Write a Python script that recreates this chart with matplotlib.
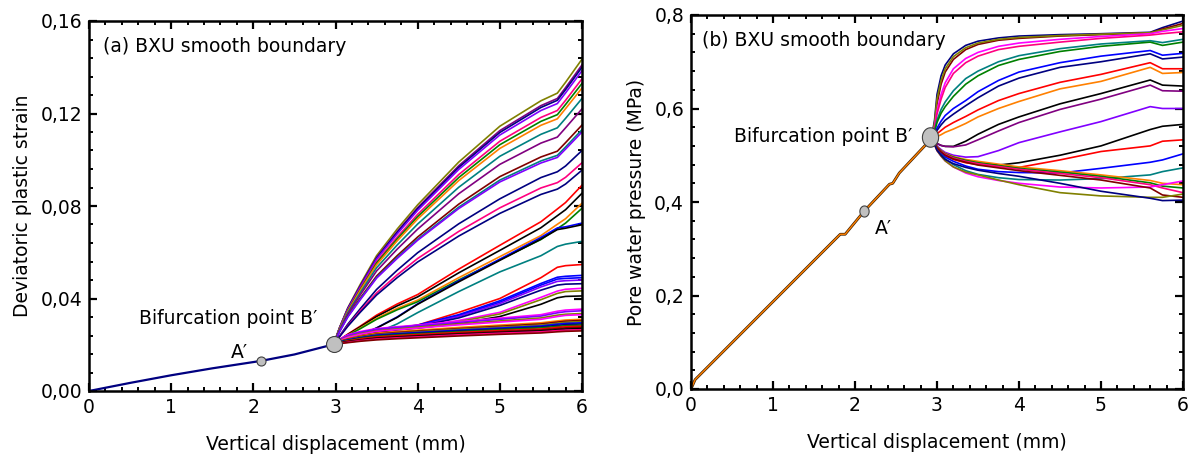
import numpy as np
import matplotlib
matplotlib.use("Agg")
import matplotlib.pyplot as plt
from matplotlib.path import Path
from matplotlib.ticker import MultipleLocator

plt.rcParams['font.family'] = ['DejaVu Sans']

# Panel (a): deviatoric plastic strain
xa_pre = [0, 0.5, 1.0, 1.5, 2.09, 2.5, 2.98]
ya_pre = [0, 0.0035, 0.0068, 0.0098, 0.0130, 0.0158, 0.0202]

xa = [2.98, 3.05, 3.15, 3.3, 3.5, 3.75, 4.0, 4.5, 5.0, 5.5, 5.7, 5.8, 6.0]
curves_a = [
    ('#808000', [0.0205, 0.0275, 0.0360, 0.0460, 0.0585, 0.0700, 0.0805, 0.0990, 0.1145, 0.1255, 0.1288, 0.1335, 0.1435]),
    ('#800080', [0.0205, 0.0274, 0.0357, 0.0454, 0.0577, 0.0689, 0.0793, 0.0974, 0.1126, 0.1234, 0.1265, 0.1312, 0.1410]),
    ('#000080', [0.0205, 0.0273, 0.0356, 0.0452, 0.0574, 0.0685, 0.0788, 0.0967, 0.1118, 0.1226, 0.1257, 0.1303, 0.1400]),
    ('#8000ff', [0.0205, 0.0272, 0.0354, 0.0449, 0.0570, 0.0679, 0.0781, 0.0958, 0.1107, 0.1213, 0.1243, 0.1289, 0.1385]),
    ('#ff0080', [0.0205, 0.0270, 0.0349, 0.0442, 0.0559, 0.0665, 0.0764, 0.0936, 0.1080, 0.1183, 0.1213, 0.1257, 0.1350]),
    ('#008000', [0.0205, 0.0269, 0.0347, 0.0438, 0.0553, 0.0657, 0.0754, 0.0923, 0.1065, 0.1166, 0.1195, 0.1239, 0.1330]),
    ('#ff8000', [0.0205, 0.0268, 0.0344, 0.0434, 0.0546, 0.0649, 0.0744, 0.0910, 0.1049, 0.1149, 0.1177, 0.1221, 0.1310]),
    ('#008080', [0.0205, 0.0265, 0.0339, 0.0424, 0.0533, 0.0631, 0.0722, 0.0881, 0.1015, 0.1110, 0.1138, 0.1179, 0.1265]),
    ('#800080', [0.0205, 0.0263, 0.0333, 0.0415, 0.0519, 0.0613, 0.0700, 0.0853, 0.0980, 0.1072, 0.1098, 0.1138, 0.1220]),
    ('#800000', [0.0205, 0.0259, 0.0324, 0.0401, 0.0497, 0.0585, 0.0666, 0.0808, 0.0927, 0.1012, 0.1037, 0.1074, 0.1150]),
    ('#008080', [0.0205, 0.0258, 0.0322, 0.0397, 0.0491, 0.0577, 0.0656, 0.0795, 0.0912, 0.0995, 0.1019, 0.1055, 0.1130]),
    ('#8000ff', [0.0205, 0.0257, 0.0320, 0.0394, 0.0488, 0.0573, 0.0652, 0.0789, 0.0904, 0.0986, 0.1010, 0.1046, 0.1120]),
    ('#000080', [0.0205, 0.0238, 0.0289, 0.0355, 0.0439, 0.0522, 0.0598, 0.0723, 0.0831, 0.0923, 0.0948, 0.0973, 0.1040]),
    ('#ff0080', [0.0205, 0.0236, 0.0283, 0.0346, 0.0424, 0.0502, 0.0573, 0.0690, 0.0792, 0.0878, 0.0901, 0.0924, 0.0987]),
    ('#000080', [0.0205, 0.0235, 0.0280, 0.0340, 0.0415, 0.0490, 0.0558, 0.0670, 0.0768, 0.0850, 0.0873, 0.0895, 0.0955]),
    ('#ff0000', [0.0205, 0.0222, 0.0246, 0.0280, 0.0328, 0.0376, 0.0417, 0.0527, 0.0630, 0.0732, 0.0787, 0.0815, 0.0890]),
    ('#000000', [0.0205, 0.0221, 0.0244, 0.0277, 0.0322, 0.0368, 0.0407, 0.0511, 0.0608, 0.0706, 0.0758, 0.0784, 0.0855]),
    ('#ff8000', [0.0205, 0.0220, 0.0241, 0.0272, 0.0314, 0.0357, 0.0393, 0.0490, 0.0581, 0.0672, 0.0721, 0.0745, 0.0812]),
    ('#008000', [0.0205, 0.0220, 0.0240, 0.0269, 0.0310, 0.0351, 0.0386, 0.0480, 0.0568, 0.0655, 0.0702, 0.0726, 0.0790]),
    ('#0000ff', [0.0205, 0.0210, 0.0221, 0.0242, 0.0273, 0.0320, 0.0377, 0.0476, 0.0570, 0.0664, 0.0705, 0.0710, 0.0726]),
    ('#000000', [0.0205, 0.0210, 0.0220, 0.0241, 0.0272, 0.0318, 0.0375, 0.0472, 0.0565, 0.0657, 0.0698, 0.0704, 0.0719]),
    ('#008080', [0.0202, 0.0212, 0.0224, 0.0237, 0.0252, 0.0290, 0.0339, 0.0430, 0.0515, 0.0585, 0.0625, 0.0635, 0.0647]),
    ('#ff0000', [0.0202, 0.0214, 0.0228, 0.0243, 0.0256, 0.0270, 0.0285, 0.0340, 0.0400, 0.0490, 0.0535, 0.0542, 0.0547]),
    ('#0000ff', [0.0202, 0.0216, 0.0232, 0.0248, 0.0262, 0.0274, 0.0285, 0.0330, 0.0390, 0.0465, 0.0492, 0.0496, 0.0500]),
    ('#0000ff', [0.0202, 0.0216, 0.0231, 0.0247, 0.0260, 0.0272, 0.0283, 0.0326, 0.0384, 0.0458, 0.0484, 0.0487, 0.0490]),
    ('#8000ff', [0.0202, 0.0215, 0.0230, 0.0246, 0.0259, 0.0270, 0.0281, 0.0322, 0.0378, 0.0450, 0.0474, 0.0477, 0.0480]),
    ('#000080', [0.0202, 0.0215, 0.0229, 0.0244, 0.0257, 0.0268, 0.0278, 0.0316, 0.0370, 0.0436, 0.0458, 0.0462, 0.0464]),
    ('#ff00ff', [0.0202, 0.0216, 0.0232, 0.0247, 0.0260, 0.0271, 0.0280, 0.0305, 0.0340, 0.0405, 0.0432, 0.0440, 0.0444]),
    ('#808000', [0.0202, 0.0215, 0.0230, 0.0245, 0.0257, 0.0268, 0.0277, 0.0300, 0.0333, 0.0395, 0.0422, 0.0430, 0.0433]),
    ('#000000', [0.0202, 0.0214, 0.0228, 0.0242, 0.0254, 0.0264, 0.0272, 0.0292, 0.0322, 0.0375, 0.0403, 0.0409, 0.0411]),
    ('#ff00ff', [0.0202, 0.0224, 0.0243, 0.0257, 0.0270, 0.0278, 0.0285, 0.0300, 0.0315, 0.0330, 0.0345, 0.0350, 0.0354]),
    ('#8000ff', [0.0202, 0.0222, 0.0240, 0.0254, 0.0267, 0.0275, 0.0282, 0.0296, 0.0310, 0.0324, 0.0338, 0.0343, 0.0347]),
    ('#808000', [0.0202, 0.0219, 0.0234, 0.0248, 0.0260, 0.0268, 0.0276, 0.0290, 0.0303, 0.0316, 0.0328, 0.0332, 0.0335]),
    ('#ff00ff', [0.0202, 0.0218, 0.0232, 0.0245, 0.0258, 0.0265, 0.0272, 0.0286, 0.0298, 0.0310, 0.0322, 0.0327, 0.0330]),
    ('#ff8000', [0.0202, 0.0215, 0.0226, 0.0238, 0.0250, 0.0257, 0.0263, 0.0275, 0.0285, 0.0295, 0.0303, 0.0307, 0.0310]),
    ('#800000', [0.0202, 0.0214, 0.0224, 0.0235, 0.0246, 0.0253, 0.0259, 0.0270, 0.0280, 0.0290, 0.0298, 0.0302, 0.0305]),
    ('#808000', [0.0202, 0.0213, 0.0222, 0.0233, 0.0244, 0.0250, 0.0256, 0.0267, 0.0276, 0.0285, 0.0293, 0.0297, 0.0300]),
    ('#0000ff', [0.0202, 0.0212, 0.0221, 0.0231, 0.0242, 0.0248, 0.0253, 0.0263, 0.0272, 0.0281, 0.0289, 0.0292, 0.0295]),
    ('#000080', [0.0202, 0.0211, 0.0219, 0.0229, 0.0239, 0.0245, 0.0250, 0.0260, 0.0268, 0.0277, 0.0284, 0.0287, 0.0290]),
    ('#008000', [0.0202, 0.0210, 0.0218, 0.0227, 0.0237, 0.0242, 0.0247, 0.0256, 0.0265, 0.0273, 0.0279, 0.0282, 0.0285]),
    ('#ff0000', [0.0202, 0.0209, 0.0216, 0.0225, 0.0234, 0.0239, 0.0244, 0.0253, 0.0261, 0.0268, 0.0275, 0.0278, 0.0280]),
    ('#800000', [0.0202, 0.0208, 0.0214, 0.0222, 0.0230, 0.0235, 0.0240, 0.0249, 0.0257, 0.0264, 0.0270, 0.0273, 0.0275]),
    ('#000000', [0.0202, 0.0207, 0.0213, 0.0220, 0.0228, 0.0233, 0.0237, 0.0246, 0.0253, 0.0260, 0.0265, 0.0268, 0.0270]),
    ('#ff0080', [0.0202, 0.0206, 0.0211, 0.0218, 0.0225, 0.0230, 0.0234, 0.0243, 0.0250, 0.0256, 0.0261, 0.0263, 0.0265]),
    ('#800000', [0.0202, 0.0205, 0.0209, 0.0215, 0.0221, 0.0226, 0.0230, 0.0238, 0.0245, 0.0251, 0.0256, 0.0258, 0.0260]),
]
pt_a = {'A': (2.09, 0.0130), 'B': (2.98, 0.0202)}
yticks_a = [0, 0.04, 0.08, 0.12, 0.16]
ylabels_a = ['0,00', '0,04', '0,08', '0,12', '0,16']

# Panel (b): pore water pressure
xb_pre = [0, 0.05, 1.82, 1.88, 2.11, 2.42, 2.46, 2.54, 2.93]
yb_pre = [0, 0.020, 0.331, 0.331, 0.380, 0.438, 0.440, 0.462, 0.535]

xb = [2.93, 2.97, 3.0, 3.05, 3.1, 3.2, 3.35, 3.5, 3.75, 4.0, 4.5, 5.0, 5.6, 5.75, 6.0]
curves_b = [
    ('#000080', [0.535, 0.575, 0.630, 0.670, 0.693, 0.717, 0.735, 0.744, 0.751, 0.755, 0.758, 0.760, 0.763, 0.773, 0.787]),
    ('#800000', [0.535, 0.565, 0.610, 0.652, 0.678, 0.705, 0.726, 0.737, 0.746, 0.750, 0.755, 0.758, 0.762, 0.770, 0.782]),
    ('#808000', [0.535, 0.570, 0.620, 0.660, 0.685, 0.711, 0.730, 0.740, 0.748, 0.752, 0.756, 0.759, 0.762, 0.768, 0.778]),
    ('#ff00ff', [0.535, 0.560, 0.595, 0.630, 0.655, 0.685, 0.707, 0.720, 0.733, 0.740, 0.748, 0.754, 0.760, 0.765, 0.771]),
    ('#ff0080', [0.535, 0.558, 0.588, 0.620, 0.645, 0.675, 0.698, 0.712, 0.726, 0.733, 0.742, 0.750, 0.757, 0.760, 0.764]),
    ('#008080', [0.535, 0.552, 0.575, 0.598, 0.614, 0.638, 0.664, 0.680, 0.700, 0.713, 0.728, 0.738, 0.745, 0.741, 0.748]),
    ('#008000', [0.535, 0.550, 0.570, 0.590, 0.604, 0.626, 0.652, 0.670, 0.692, 0.705, 0.722, 0.733, 0.742, 0.735, 0.742]),
    ('#0000ff', [0.535, 0.545, 0.558, 0.573, 0.585, 0.600, 0.617, 0.636, 0.660, 0.678, 0.698, 0.712, 0.724, 0.714, 0.718]),
    ('#000080', [0.535, 0.543, 0.553, 0.565, 0.575, 0.588, 0.606, 0.623, 0.648, 0.665, 0.688, 0.700, 0.717, 0.706, 0.710]),
    ('#ff0000', [0.535, 0.540, 0.546, 0.553, 0.560, 0.570, 0.583, 0.597, 0.617, 0.632, 0.656, 0.673, 0.698, 0.685, 0.685]),
    ('#ff8000', [0.535, 0.537, 0.540, 0.544, 0.549, 0.556, 0.568, 0.582, 0.600, 0.615, 0.642, 0.658, 0.688, 0.675, 0.677]),
    ('#000000', [0.535, 0.530, 0.525, 0.521, 0.519, 0.519, 0.530, 0.545, 0.566, 0.582, 0.610, 0.632, 0.661, 0.650, 0.648]),
    ('#800080', [0.535, 0.530, 0.525, 0.521, 0.519, 0.518, 0.522, 0.533, 0.552, 0.570, 0.598, 0.620, 0.650, 0.638, 0.637]),
    ('#8000ff', [0.535, 0.528, 0.520, 0.512, 0.506, 0.500, 0.496, 0.497, 0.510, 0.527, 0.550, 0.572, 0.604, 0.600, 0.600]),
    ('#000000', [0.535, 0.527, 0.518, 0.509, 0.502, 0.494, 0.487, 0.483, 0.479, 0.484, 0.500, 0.520, 0.555, 0.562, 0.566]),
    ('#ff0000', [0.535, 0.526, 0.516, 0.507, 0.499, 0.491, 0.484, 0.480, 0.476, 0.474, 0.490, 0.508, 0.520, 0.530, 0.533]),
    ('#0000ff', [0.535, 0.525, 0.514, 0.504, 0.496, 0.487, 0.477, 0.470, 0.465, 0.463, 0.462, 0.472, 0.485, 0.490, 0.503]),
    ('#008080', [0.535, 0.524, 0.512, 0.501, 0.492, 0.480, 0.467, 0.459, 0.452, 0.448, 0.447, 0.450, 0.458, 0.465, 0.473]),
    ('#ff8000', [0.535, 0.527, 0.518, 0.510, 0.504, 0.497, 0.491, 0.487, 0.481, 0.475, 0.467, 0.458, 0.446, 0.440, 0.437]),
    ('#008000', [0.535, 0.526, 0.517, 0.509, 0.503, 0.496, 0.489, 0.484, 0.478, 0.472, 0.464, 0.455, 0.441, 0.434, 0.430]),
    ('#ff0080', [0.535, 0.526, 0.516, 0.508, 0.502, 0.494, 0.487, 0.482, 0.476, 0.470, 0.461, 0.452, 0.437, 0.430, 0.420]),
    ('#ff00ff', [0.535, 0.523, 0.510, 0.498, 0.488, 0.475, 0.462, 0.454, 0.446, 0.440, 0.432, 0.430, 0.432, 0.437, 0.445]),
    ('#800000', [0.535, 0.526, 0.516, 0.507, 0.500, 0.492, 0.485, 0.479, 0.473, 0.467, 0.457, 0.447, 0.430, 0.415, 0.410]),
    ('#808000', [0.535, 0.523, 0.510, 0.498, 0.488, 0.475, 0.464, 0.458, 0.447, 0.437, 0.420, 0.413, 0.410, 0.410, 0.417]),
    ('#000080', [0.535, 0.523, 0.511, 0.500, 0.491, 0.482, 0.474, 0.468, 0.461, 0.455, 0.440, 0.423, 0.408, 0.403, 0.404]),
]
pt_b = {'A': (2.11, 0.380), 'B': (2.915, 0.5386)}
yticks_b = [0, 0.2, 0.4, 0.6, 0.8]
ylabels_b = ['0,0', '0,2', '0,4', '0,6', '0,8']

xticks = [0, 1, 2, 3, 4, 5, 6]

# slightly tall ellipse marker
t = np.linspace(0, 2 * np.pi, 60)
ell = Path(np.column_stack([np.cos(t), 1.2 * np.sin(t)]), closed=True)

fig = plt.figure(figsize=(11.95, 4.58), dpi=100)
ax1 = fig.add_axes([89 / 1195, 1 - 391 / 458, 493 / 1195, 370 / 458])
ax2 = fig.add_axes([691 / 1195, 1 - 389 / 458, 492 / 1195, 374 / 458])

FS = 13.5


def style(ax, ylim, yt, yl, ymin_step, ylabel):
    ax.set_xlim(0, 6)
    ax.set_ylim(*ylim)
    ax.set_xticks(xticks)
    ax.set_xticklabels([str(v) for v in xticks])
    ax.set_yticks(yt)
    ax.set_yticklabels(yl)
    ax.xaxis.set_minor_locator(MultipleLocator(0.2))
    ax.yaxis.set_minor_locator(MultipleLocator(ymin_step))
    ax.tick_params(which='both', direction='in', top=True, right=True, labelsize=FS)
    ax.tick_params(which='major', length=6, width=1.6, pad=5)
    ax.tick_params(which='minor', length=3, width=1.4)
    for s in ax.spines.values():
        s.set_linewidth(1.8)
    ax.set_xlabel('Vertical displacement (mm)', fontsize=FS, labelpad=13)
    ax.set_ylabel(ylabel, fontsize=FS, labelpad=6)


# panel a
for c, ys in curves_a:
    ax1.plot(xa, ys, color=c, lw=1.2)
ax1.plot(xa_pre, ya_pre, color='#000080', lw=1.6)
ax1.plot(*pt_a['A'], marker='o', ms=6.5, mfc='#c0c0c0', mec='#404040', mew=0.8)
ax1.plot(*pt_a['B'], marker='o', ms=11.5, mfc='#c0c0c0', mec='#404040', mew=0.8, zorder=5)
ax1.text(0.167, 0.1488, '(a) BXU smooth boundary', fontsize=FS, va='center')
ax1.text(2.78, 0.0312, 'Bifurcation point B\u2032', fontsize=FS, va='center', ha='right')
ax1.text(1.94, 0.0168, 'A\u2032', fontsize=FS, va='center', ha='right')
style(ax1, (0, 0.16), yticks_a, ylabels_a, 0.008, 'Deviatoric plastic strain')

# panel b
for c, ys in curves_b:
    ax2.plot(xb, ys, color=c, lw=1.2)
ax2.plot(xb_pre, yb_pre, color='#402000', lw=2.0)
ax2.plot(xb_pre, yb_pre, color='#ff8000', lw=1.0)
ax2.plot(*pt_b['A'], marker=ell, ms=8, mfc='#c0c0c0', mec='#404040', mew=0.8)
ax2.plot(*pt_b['B'], marker=ell, ms=14, mfc='#c0c0c0', mec='#404040', mew=0.8, zorder=5)
ax2.text(0.14, 0.745, '(b) BXU smooth boundary', fontsize=FS, va='center')
ax2.text(2.70, 0.541, 'Bifurcation point B\u2032', fontsize=FS, va='center', ha='right')
ax2.text(2.24, 0.344, 'A\u2032', fontsize=FS, va='center', ha='left')
style(ax2, (0, 0.8), yticks_b, ylabels_b, 0.04, 'Pore water pressure (MPa)')

fig.savefig('out.png', dpi=100)
